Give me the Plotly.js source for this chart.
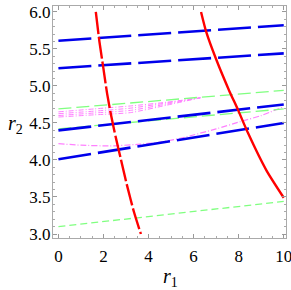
<!DOCTYPE html>
<html>
<head>
<meta charset="utf-8">
<script src="https://cdn.plot.ly/plotly-3.0.1.min.js"></script>
<style>html,body{margin:0;padding:0;background:#fff;}#chart{width:291px;height:290px;}</style>
</head>
<body>
<div id="chart"></div>
<script>
// Blue long-dashed lines
const blueX = [0, 10];
const blue1Y = [5.61, 5.82];
const blue2Y = [5.24, 5.44];
const blue3Y = [4.40, 4.75];
const blue4Y = [4.01, 4.50];

// Green dashed lines
const greenX = [0, 10];
const greenTopY = [4.69, 4.94];
const greenMidY = [4.42, 4.69];
const greenBotY = [3.10, 3.44];

// Red curves
const redDashX = [1.66, 1.82, 1.99, 2.16, 2.34, 2.55, 2.78, 3.05, 3.35, 3.66];
const redDashY = [6.0, 5.6, 5.25, 4.9, 4.6, 4.3, 4.0, 3.65, 3.3, 3.0];
const redSolidX = [6.33, 6.56, 7.0, 7.56, 7.98, 8.42, 9.23, 10.0];
const redSolidY = [6.0, 5.73, 5.36, 4.95, 4.67, 4.36, 3.86, 3.49];

// Magenta dot-dashed lines
const magX = [0, 1.6, 3.2, 4.8, 6.3];
const mag1Y = [4.65, 4.69, 4.73, 4.78, 4.84];
const mag2Y = [4.625, 4.66, 4.70, 4.77, 4.84];
const mag3Y = [4.60, 4.635, 4.67, 4.755, 4.84];
const mag4Y = [4.58, 4.61, 4.64, 4.74, 4.84];
const magLowX = [0, 1, 2.3, 3.5, 4.5, 5.5, 7, 8.1, 9, 10];
const magLowY = [4.22, 4.20, 4.19, 4.21, 4.24, 4.30, 4.42, 4.52, 4.60, 4.72];

// Ticks
const xTicks = [0, 2, 4, 6, 8, 10];
const yTicks = [3.0, 3.5, 4.0, 4.5, 5.0, 5.5, 6.0];
const yTickText = ["3.0", "3.5", "4.0", "4.5", "5.0", "5.5", "6.0"];

const BLUE = 'rgb(0,0,235)';
const RED = 'rgb(255,0,0)';
const GREEN = 'rgb(128,255,128)';
const MAG = 'rgb(255,128,255)';

function tr(x, y, color, width, dash) {
  return {x: x, y: y, type: 'scatter', mode: 'lines', hoverinfo: 'skip',
          line: {color: color, width: width, dash: dash, shape: 'spline', smoothing: 0.6}};
}

const data = [
  tr(magX, mag1Y, MAG, 1, '5px,2px,1px,2px'),
  tr(magX, mag2Y, MAG, 1, '5px,2px,1px,2px'),
  tr(magX, mag3Y, MAG, 1, '5px,2px,1px,2px'),
  tr(magX, mag4Y, MAG, 1, '5px,2px,1px,2px'),
  tr(magLowX, magLowY, MAG, 1.2, '6px,2px,1px,2px'),
  tr(greenX, greenTopY, GREEN, 1.3, '13px,5px'),
  tr(greenX, greenMidY, GREEN, 1.3, '13px,5px'),
  tr(greenX, greenBotY, GREEN, 1.3, '7px,4px'),
  tr(blueX, blue1Y, BLUE, 2.6, '33px,7px'),
  tr(blueX, blue2Y, BLUE, 2.6, '33px,7px'),
  tr(blueX, blue3Y, BLUE, 2.6, '33px,7px'),
  tr(blueX, blue4Y, BLUE, 2.6, '33px,7px'),
  tr(redDashX, redDashY, RED, 2.4, '22px,3px'),
  tr(redSolidX, redSolidY, RED, 2.4, 'solid')
];

const tickFont = {family: 'Liberation Serif, Times New Roman, serif', size: 17, color: '#000'};

const layout = {
  width: 291, height: 290,
  margin: {l: 53, r: 5.3, t: 6, b: 52, pad: 0},
  paper_bgcolor: '#fff', plot_bgcolor: '#fff',
  showlegend: false,
  xaxis: {
    range: [-0.24, 10.1], tickvals: xTicks, ticktext: xTicks.map(String),
    ticks: 'inside', ticklen: 4, tickcolor: '#999', tickwidth: 1,
    showline: true, linecolor: '#aaa', linewidth: 1, mirror: 'allticks',
    showgrid: false, zeroline: false, tickfont: tickFont,
    ticklabeloverflow: 'allow', ticklabelstandoff: 3,
    minor: {dtick: 0.5, tick0: 0, ticks: 'inside', ticklen: 2, tickcolor: '#aaa', showgrid: false}
  },
  yaxis: {
    range: [2.946, 6.08], tickvals: yTicks, ticktext: yTickText,
    ticks: 'inside', ticklen: 4, tickcolor: '#999', tickwidth: 1,
    showline: true, linecolor: '#aaa', linewidth: 1, mirror: 'allticks',
    showgrid: false, zeroline: false, tickfont: tickFont, ticklabelstandoff: -2,
    ticklabeloverflow: 'allow',
    minor: {dtick: 0.1, tick0: 3, ticks: 'inside', ticklen: 2, tickcolor: '#aaa', showgrid: false}
  },
  annotations: [
    {text: '<i>r</i><sub>1</sub>', xref: 'paper', yref: 'paper', x: 0.505, y: -0.17,
     xanchor: 'center', yanchor: 'middle', showarrow: false,
     font: {family: 'Liberation Serif, Times New Roman, serif', size: 20, color: '#000'}},
    {text: '<i>r</i><sub>2</sub>', xref: 'paper', yref: 'paper', x: -0.16, y: 0.49,
     xanchor: 'center', yanchor: 'middle', showarrow: false,
     font: {family: 'Liberation Serif, Times New Roman, serif', size: 20, color: '#000'}}
  ]
};

Plotly.newPlot('chart', data, layout, {displayModeBar: false, staticPlot: true});
</script>
</body>
</html>
